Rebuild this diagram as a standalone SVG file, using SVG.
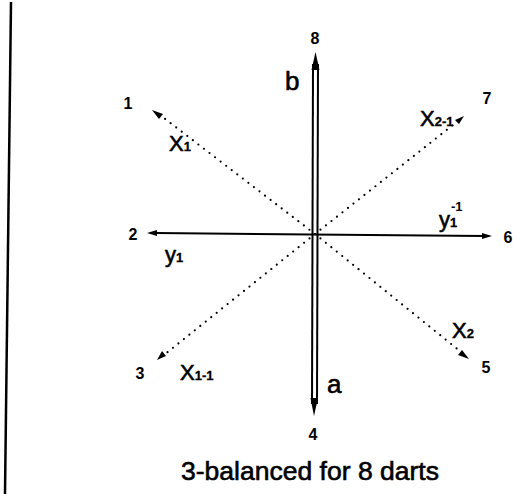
<svg xmlns="http://www.w3.org/2000/svg" width="513" height="496" viewBox="0 0 513 496">
<style>
.lbl{font-family:"Liberation Sans",Arial,sans-serif;font-weight:bold;font-size:16px;fill:#000}
.big{font-family:"Liberation Sans",Arial,sans-serif;font-size:26px;fill:#000;stroke:#000;stroke-width:0.6}
.var{font-family:"Liberation Sans",Arial,sans-serif;font-size:22px;fill:#000;stroke:#000;stroke-width:0.6}
.sub{font-family:"Liberation Sans",Arial,sans-serif;font-weight:bold;font-size:13px;fill:#000;stroke-width:0.3}
.dot{stroke:#000;stroke-width:2.2;stroke-linecap:round;stroke-dasharray:0 7;fill:none}
.solid{stroke:#000;stroke-width:2;fill:none}
.head{fill:#000}
</style>
<rect width="513" height="496" fill="#fff"/>
<g id="frame"><line x1="11" y1="2" x2="5" y2="494" stroke="#000" stroke-width="2.5"/></g>
<g id="connectors">
  <line class="solid" x1="313" y1="64" x2="312" y2="404"/>
  <line class="solid" x1="318" y1="64" x2="317" y2="404"/>
  <polygon class="head" points="315.5,52 311.5,70 319.5,70"/>
  <polygon class="head" points="314,416 310.5,398 318,398"/>
  <line class="solid" x1="156" y1="233" x2="484" y2="236"/>
  <polygon class="head" points="147,233 157,230 157,236"/>
  <polygon class="head" points="492,236 482,233 482,239"/>
  <line class="dot" x1="315" y1="234" x2="160" y2="115"/>
  <polygon class="head" points="152,110 163,114 159,119"/>
  <line class="dot" x1="315" y1="234" x2="164" y2="355"/>
  <polygon class="head" points="157,360 162,351 166,356"/>
  <line class="dot" x1="315" y1="234" x2="458" y2="121"/>
  <polygon class="head" points="464,116 459,124 455,120"/>
  <line class="dot" x1="315" y1="234" x2="461" y2="352"/>
  <polygon class="head" points="469,359 458,355 462,350"/>
</g>
<g id="n8"><text class="lbl" x="315" y="44" text-anchor="middle">8</text></g>
<g id="n4"><text class="lbl" x="313" y="440" text-anchor="middle">4</text></g>
<g id="n1"><text class="lbl" x="128" y="109" text-anchor="middle">1</text></g>
<g id="n2"><text class="lbl" x="133" y="240" text-anchor="middle">2</text></g>
<g id="n3"><text class="lbl" x="140" y="379" text-anchor="middle">3</text></g>
<g id="n5"><text class="lbl" x="486" y="373" text-anchor="middle">5</text></g>
<g id="n6"><text class="lbl" x="508" y="243" text-anchor="middle">6</text></g>
<g id="n7"><text class="lbl" x="487" y="104" text-anchor="middle">7</text></g>
<g id="lb"><text class="big" x="285" y="90">b</text></g>
<g id="la"><text class="big" x="327" y="393">a</text></g>
<g id="lx1"><text class="var" x="169" y="151">X<tspan class="sub">1</tspan></text></g>
<g id="lx2inv"><text class="var" x="420" y="126">X<tspan class="sub">2-1</tspan></text></g>
<g id="ly1"><text class="var" x="165" y="262">y<tspan class="sub">1</tspan></text></g>
<g id="ly1inv"><text class="var" x="439" y="227">y<tspan class="sub">1</tspan></text><text class="sub" x="451" y="211">-1</text></g>
<g id="lx2"><text class="var" x="452" y="338">X<tspan class="sub">2</tspan></text></g>
<g id="lx1inv"><text class="var" x="180" y="380">X<tspan class="sub">1-1</tspan></text></g>
<g id="caption"><text class="big" x="181" y="480" textLength="258" lengthAdjust="spacingAndGlyphs">3-balanced for 8 darts</text></g>
</svg>
